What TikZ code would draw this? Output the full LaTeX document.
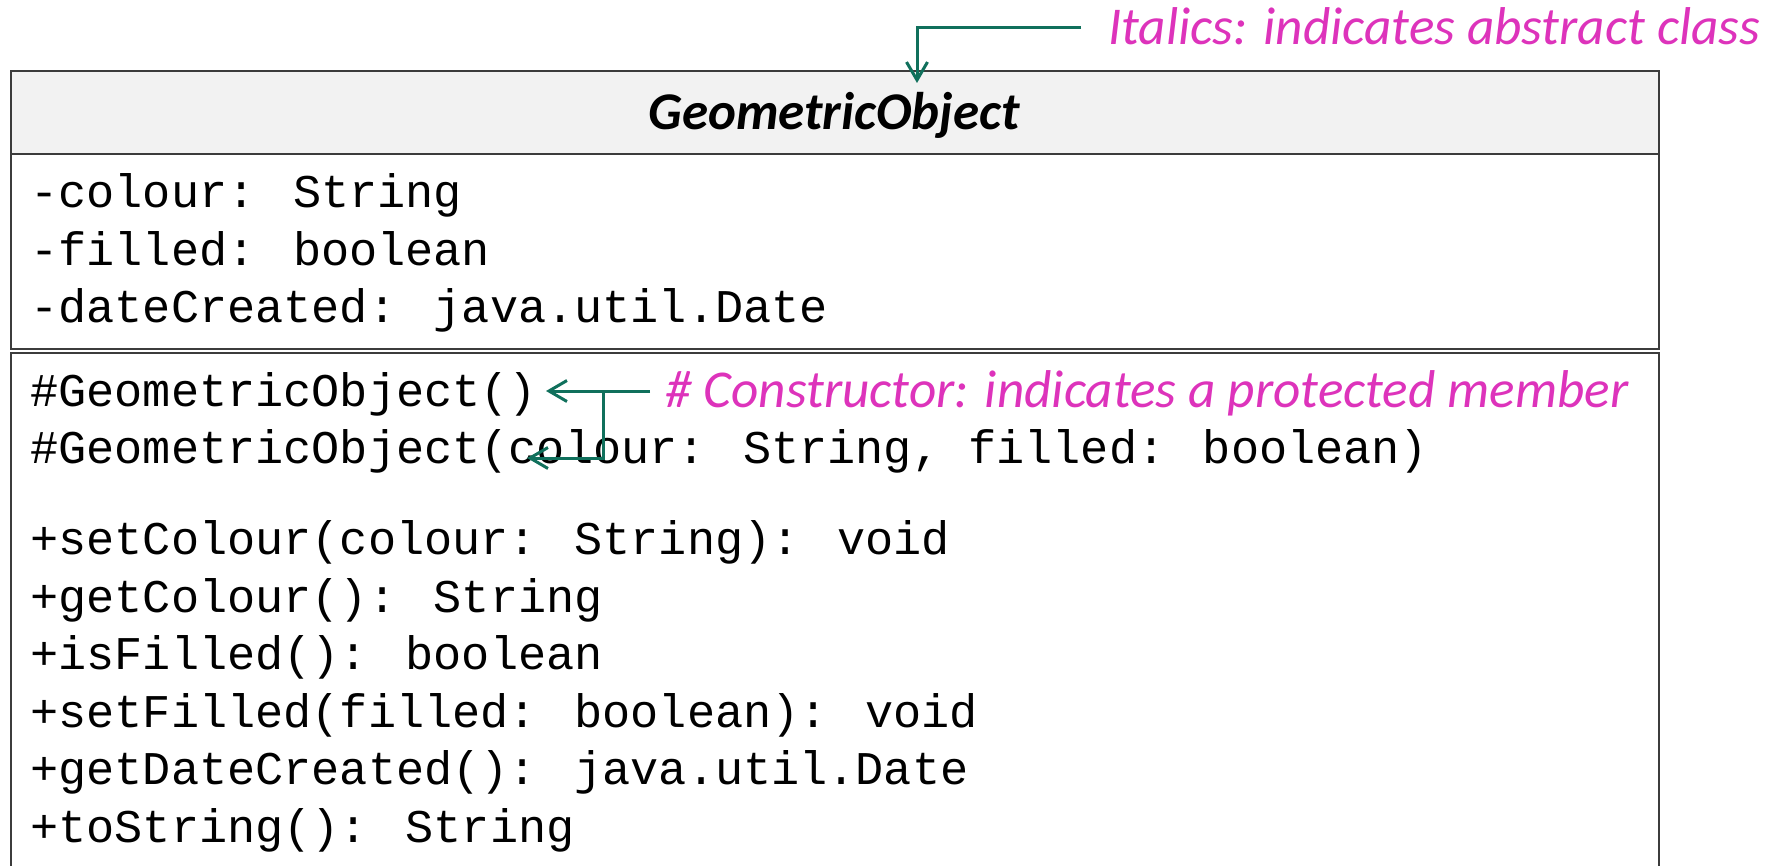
\documentclass[tikz,border=0pt]{standalone}
\usepackage{fontspec}
\setmainfont{Carlito}
\newfontfamily\monof{Liberation Mono}
\usetikzlibrary{arrows.meta}
\definecolor{boxline}{HTML}{3C3C3C}
\definecolor{hdrfill}{HTML}{F2F2F2}
\definecolor{notecol}{HTML}{DD33BB}
\definecolor{conncol}{HTML}{10705C}
\begin{document}
\begin{tikzpicture}[x=0.5pt,y=-0.5pt,
  boxpart/.style={draw=boxline, line width=1pt, anchor=north west, inner sep=0pt, minimum width=824pt},
  member/.style={anchor=base west, inner sep=0pt, font=\monof\fontsize{23.45}{28}\selectfont},
  note/.style={anchor=base west, inner ysep=0pt, text=notecol, text depth=0pt, font=\itshape\fontsize{26.6}{30}\selectfont},
  conn/.style={draw=conncol, line width=1.5pt, -{Straight Barb[length=9pt,width=10.5pt]}}
]
\useasboundingbox (0,0) rectangle (1770,866);
% class box
\node[boxpart, fill=hdrfill, minimum height=41.5pt] (hdr) at (10,70) {};
\node[boxpart, minimum height=97.5pt] (attrs) at (10,153) {};
\node[boxpart, minimum height=280pt] (meths) at (10,352) {};
\node[anchor=base, inner sep=0pt, font=\bfseries\itshape\fontsize{26.5}{30}\selectfont] (title) at (834,130) {GeometricObject};
% attributes
\node[member] (a1) at (30,208) {-colour: String};
\node[member] (a2) at (30,265) {-filled: boolean};
\node[member] (a3) at (30,322) {-dateCreated: java.util.Date};
% constructors
\node[member] (c1) at (30,406) {\#GeometricObject()};
\node[member] (c2) at (30,463) {\#GeometricObject(colour: String, filled: boolean)};
% methods
\node[member] (m1) at (30,554) {+setColour(colour: String): void};
\node[member] (m2) at (30,612) {+getColour(): String};
\node[member] (m3) at (30,669) {+isFilled(): boolean};
\node[member] (m4) at (30,727) {+setFilled(filled: boolean): void};
\node[member] (m5) at (30,784) {+getDateCreated(): java.util.Date};
\node[member] (m6) at (30,842) {+toString(): String};
% notes
\node[note, inner xsep=13.5pt, text height=17pt] (absnote) at (1081,45) {Italics: indicates abstract class};
\node[note, inner xsep=7.5pt, text height=16pt] (ctornote) at (650,407) {\# Constructor: indicates a protected member};
% connectors
\coordinate (tipA) at (917,83);
\coordinate (tipB) at (546,391);
\coordinate (junc) at (603,391);
\coordinate (tipC) at (527,458);
\draw[conn] (absnote.west) -| (tipA);
\draw[conn] (ctornote.west) -- (tipB);
\draw[conn] (junc) |- (tipC);
\end{tikzpicture}
\end{document}
